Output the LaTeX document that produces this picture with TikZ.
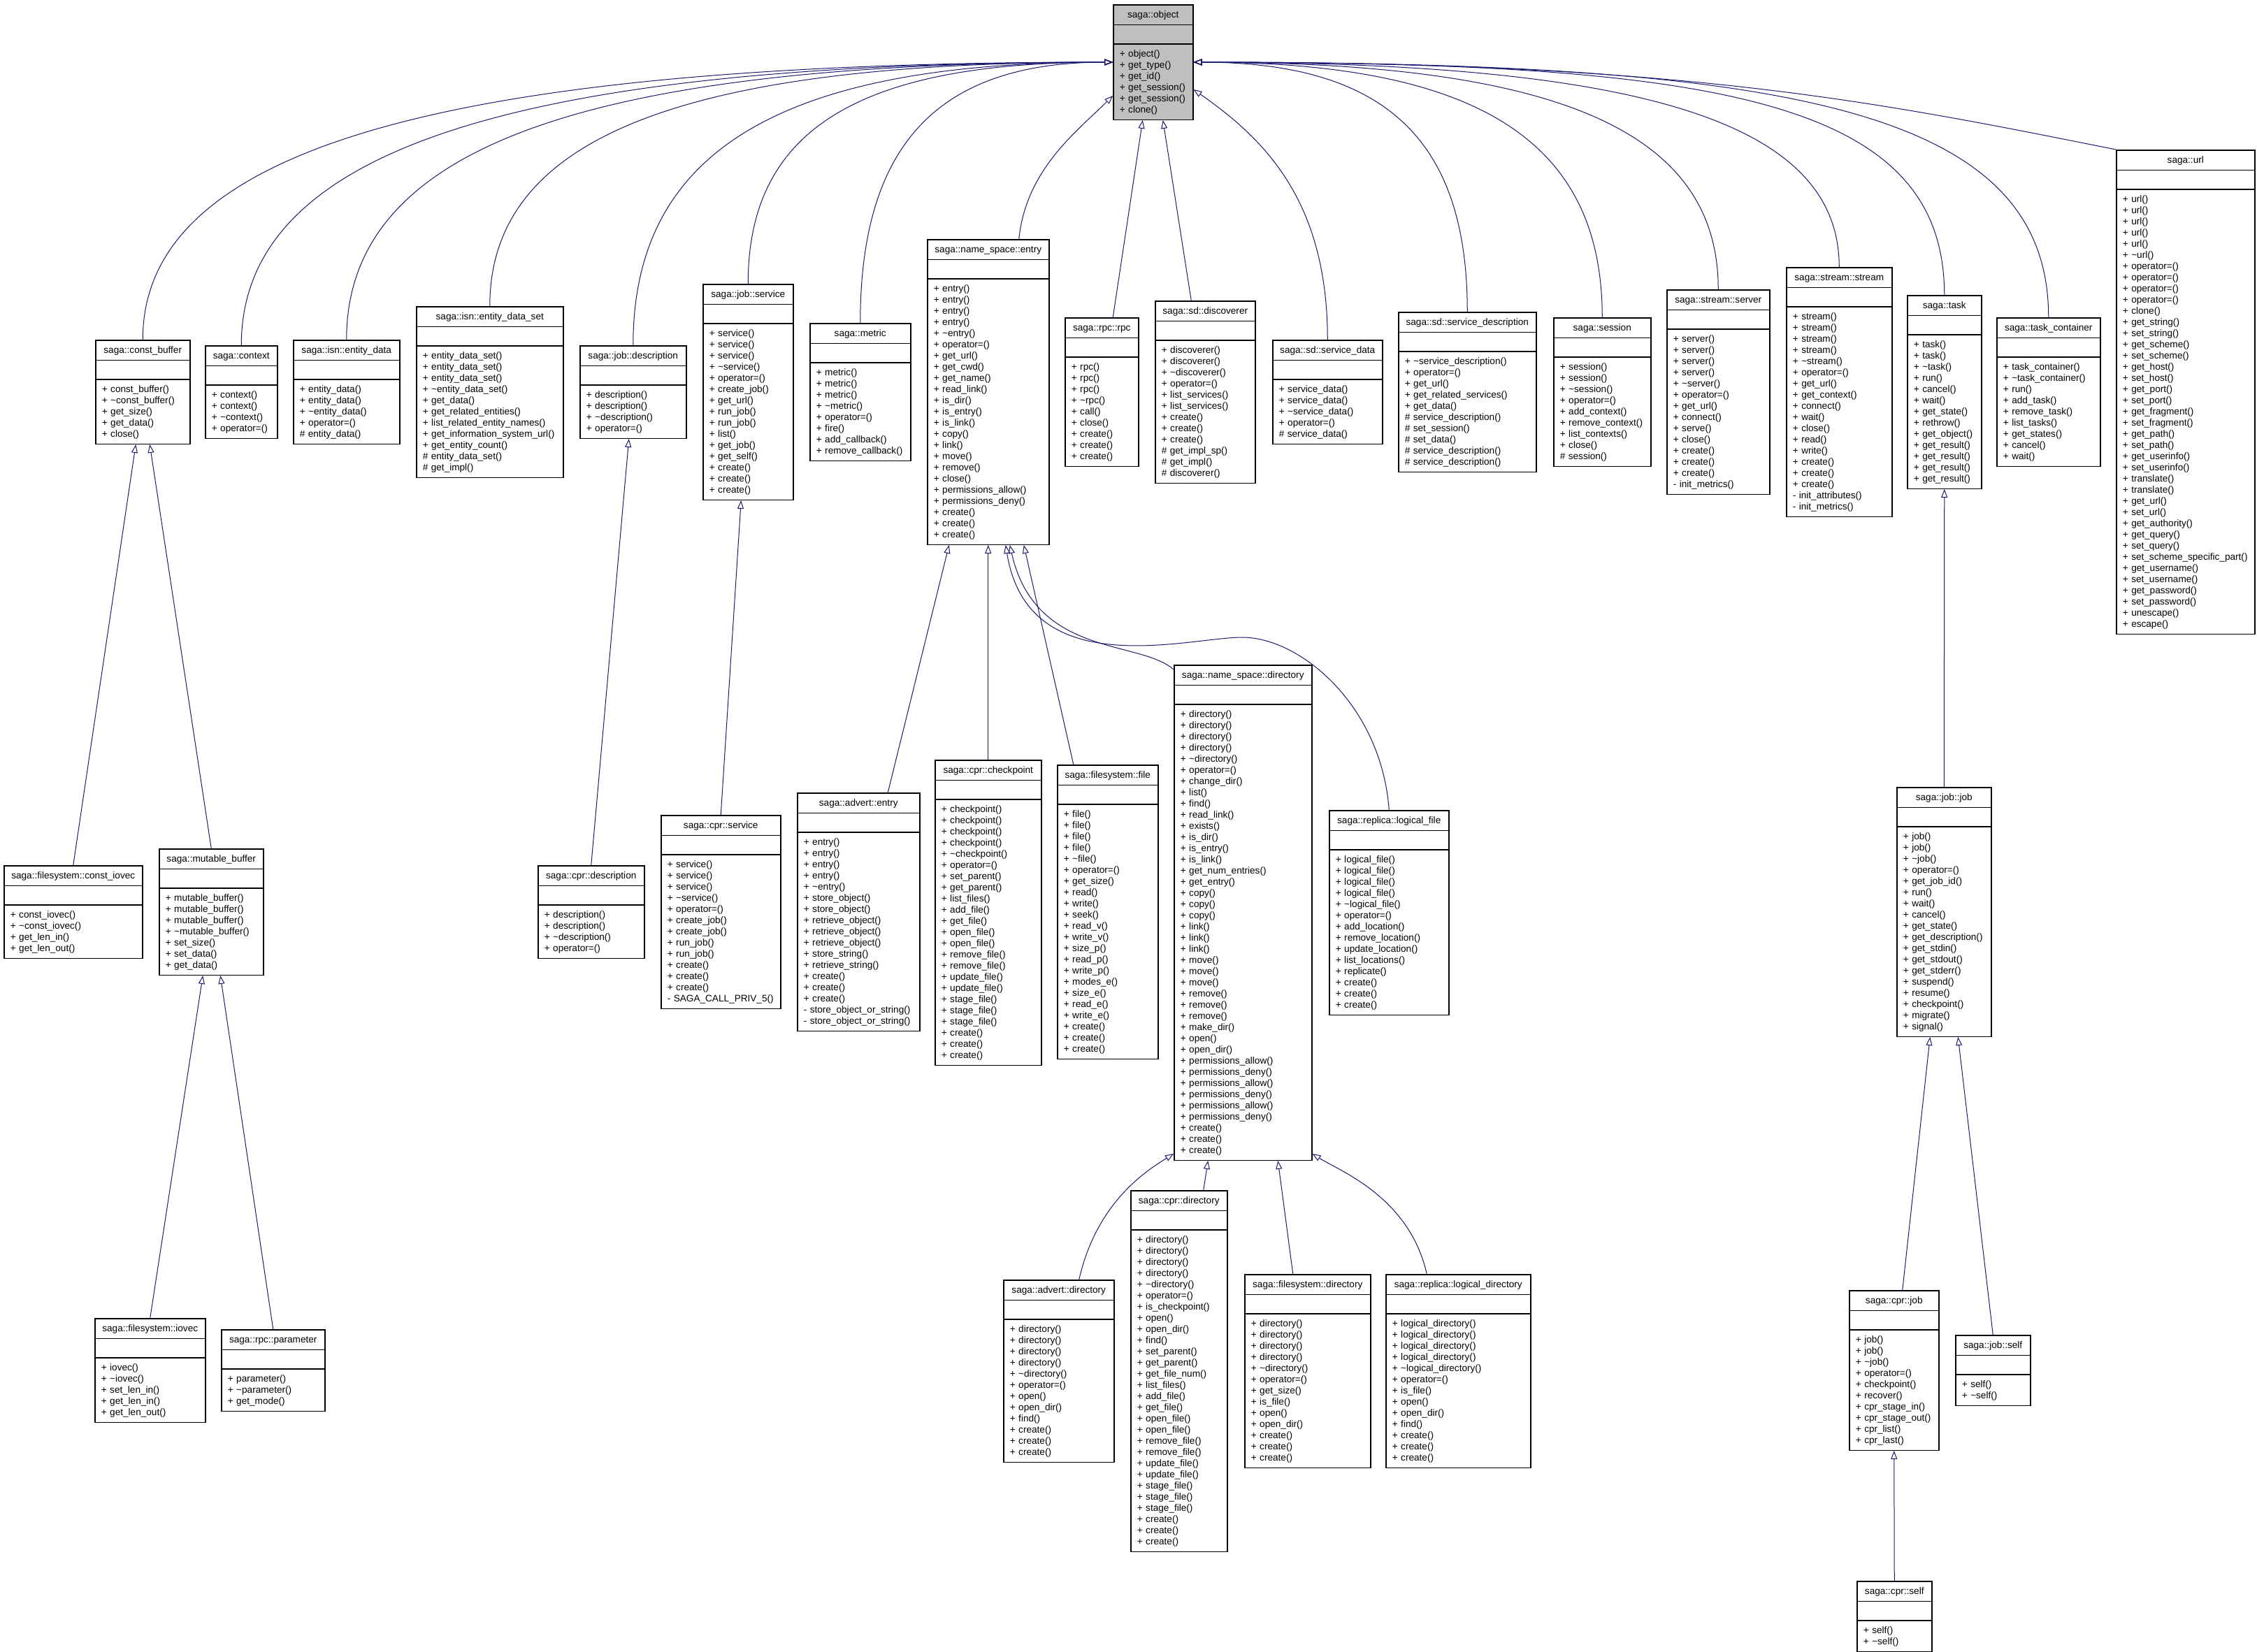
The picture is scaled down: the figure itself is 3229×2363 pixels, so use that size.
\documentclass[tikz,border=0pt]{standalone}
\usepackage{fontspec}
\setmainfont{Liberation Sans}
\usetikzlibrary{shapes.multipart}
\usetikzlibrary{arrows.meta}
\usetikzlibrary{calc}
\definecolor{edgeblue}{HTML}{191970}
\definecolor{objgray}{HTML}{BFBFBF}
\newcommand{\mstrut}{\rule[-2pt]{0pt}{8pt}}
\newcommand{\emptyrow}{\rule{0pt}{7.5pt}}
\newcommand{\dt}{\textasciitilde}
\newcommand{\hd}[1]{\makebox[\linewidth]{\mstrut #1}}
\tikzset{
  cls/.style={draw, line width=0.75pt, rectangle split, rectangle split parts=3,
    anchor=north west, inner xsep=4.5pt, inner ysep=2.75pt, align=left,
    fill=white, font=\fontsize{6.8}{8}\selectfont},
  inh/.style={draw=edgeblue, line width=0.5pt, -{Triangle[open,length=6pt,width=4.5pt]}}
}

\begin{document}
\begin{tikzpicture}[x=0.5pt,y=-0.5pt]
  \useasboundingbox (0,0) rectangle (3229,2363);
  % base class
  \node[cls, text width=48pt, fill=objgray] (obj) at (1592,6) {\hd{saga::object}\nodepart{two}\emptyrow\nodepart{three}\mstrut
    + object()\\+ get\_type()\\+ get\_id()\\+ get\_session()\\+ get\_session()\\+ clone()\mstrut};
  % first row
  \node[cls, text width=58.5pt] (cbuf) at (136,486) {\hd{saga::const\_buffer}\nodepart{two}\emptyrow\nodepart{three}\mstrut
    + const\_buffer()\\+ \dt const\_buffer()\\+ get\_size()\\+ get\_data()\\+ close()\mstrut};
  \node[cls, text width=42.5pt] (ctx) at (293,494) {\hd{saga::context}\nodepart{two}\emptyrow\nodepart{three}\mstrut
    + context()\\+ context()\\+ \dt context()\\+ operator=()\mstrut};
  \node[cls, text width=67pt] (edata) at (419,486) {\hd{saga::isn::entity\_data}\nodepart{two}\emptyrow\nodepart{three}\mstrut
    + entity\_data()\\+ entity\_data()\\+ \dt entity\_data()\\+ operator=()\\\# entity\_data()\mstrut};
  \node[cls, text width=96pt] (edset) at (595,438) {\hd{saga::isn::entity\_data\_set}\nodepart{two}\emptyrow\nodepart{three}\mstrut
    + entity\_data\_set()\\+ entity\_data\_set()\\+ entity\_data\_set()\\+ \dt entity\_data\_set()\\+ get\_data()\\+ get\_related\_entities()\\+ list\_related\_entity\_names()\\+ get\_information\_system\_url()\\+ get\_entity\_count()\\\# entity\_data\_set()\\\# get\_impl()\mstrut};
  \node[cls, text width=67pt] (jdesc) at (829,494) {\hd{saga::job::description}\nodepart{two}\emptyrow\nodepart{three}\mstrut
    + description()\\+ description()\\+ \dt description()\\+ operator=()\mstrut};
  \node[cls, text width=55.5pt] (jsrv) at (1005,406) {\hd{saga::job::service}\nodepart{two}\emptyrow\nodepart{three}\mstrut
    + service()\\+ service()\\+ service()\\+ \dt service()\\+ operator=()\\+ create\_job()\\+ get\_url()\\+ run\_job()\\+ run\_job()\\+ list()\\+ get\_job()\\+ get\_self()\\+ create()\\+ create()\\+ create()\mstrut};
  \node[cls, text width=63pt] (metric) at (1158,462) {\hd{saga::metric}\nodepart{two}\emptyrow\nodepart{three}\mstrut
    + metric()\\+ metric()\\+ metric()\\+ \dt metric()\\+ operator=()\\+ fire()\\+ add\_callback()\\+ remove\_callback()\mstrut};
  \node[cls, text width=78pt] (nsentry) at (1326,342) {\hd{saga::name\_space::entry}\nodepart{two}\emptyrow\nodepart{three}\mstrut
    + entry()\\+ entry()\\+ entry()\\+ entry()\\+ \dt entry()\\+ operator=()\\+ get\_url()\\+ get\_cwd()\\+ get\_name()\\+ read\_link()\\+ is\_dir()\\+ is\_entry()\\+ is\_link()\\+ copy()\\+ link()\\+ move()\\+ remove()\\+ close()\\+ permissions\_allow()\\+ permissions\_deny()\\+ create()\\+ create()\\+ create()\mstrut};
  \node[cls, text width=43.5pt] (rpc) at (1523,454) {\hd{saga::rpc::rpc}\nodepart{two}\emptyrow\nodepart{three}\mstrut
    + rpc()\\+ rpc()\\+ rpc()\\+ \dt rpc()\\+ call()\\+ close()\\+ create()\\+ create()\\+ create()\mstrut};
  \node[cls, text width=62.5pt] (disc) at (1652,430) {\hd{saga::sd::discoverer}\nodepart{two}\emptyrow\nodepart{three}\mstrut
    + discoverer()\\+ discoverer()\\+ \dt discoverer()\\+ operator=()\\+ list\_services()\\+ list\_services()\\+ create()\\+ create()\\+ create()\\\# get\_impl\_sp()\\\# get\_impl()\\\# discoverer()\mstrut};
  \node[cls, text width=69.5pt] (sdata) at (1820,486) {\hd{saga::sd::service\_data}\nodepart{two}\emptyrow\nodepart{three}\mstrut
    + service\_data()\\+ service\_data()\\+ \dt service\_data()\\+ operator=()\\\# service\_data()\mstrut};
  \node[cls, text width=89.5pt] (sdesc) at (2000,446) {\hd{saga::sd::service\_description}\nodepart{two}\emptyrow\nodepart{three}\mstrut
    + \dt service\_description()\\+ operator=()\\+ get\_url()\\+ get\_related\_services()\\+ get\_data()\\\# service\_description()\\\# set\_session()\\\# set\_data()\\\# service\_description()\\\# service\_description()\mstrut};
  \node[cls, text width=60.5pt] (session) at (2222,454) {\hd{saga::session}\nodepart{two}\emptyrow\nodepart{three}\mstrut
    + session()\\+ session()\\+ \dt session()\\+ operator=()\\+ add\_context()\\+ remove\_context()\\+ list\_contexts()\\+ close()\\\# session()\mstrut};
  \node[cls, text width=64.5pt] (server) at (2384,414) {\hd{saga::stream::server}\nodepart{two}\emptyrow\nodepart{three}\mstrut
    + server()\\+ server()\\+ server()\\+ server()\\+ \dt server()\\+ operator=()\\+ get\_url()\\+ connect()\\+ serve()\\+ close()\\+ create()\\+ create()\\+ create()\\- init\_metrics()\mstrut};
  \node[cls, text width=66.5pt] (stream) at (2555,382) {\hd{saga::stream::stream}\nodepart{two}\emptyrow\nodepart{three}\mstrut
    + stream()\\+ stream()\\+ stream()\\+ stream()\\+ \dt stream()\\+ operator=()\\+ get\_url()\\+ get\_context()\\+ connect()\\+ wait()\\+ close()\\+ read()\\+ write()\\+ create()\\+ create()\\+ create()\\- init\_attributes()\\- init\_metrics()\mstrut};
  \node[cls, text width=44pt] (task) at (2728,422) {\hd{saga::task}\nodepart{two}\emptyrow\nodepart{three}\mstrut
    + task()\\+ task()\\+ \dt task()\\+ run()\\+ cancel()\\+ wait()\\+ get\_state()\\+ rethrow()\\+ get\_object()\\+ get\_result()\\+ get\_result()\\+ get\_result()\\+ get\_result()\mstrut};
  \node[cls, text width=65pt] (tcont) at (2856,454) {\hd{saga::task\_container}\nodepart{two}\emptyrow\nodepart{three}\mstrut
    + task\_container()\\+ \dt task\_container()\\+ run()\\+ add\_task()\\+ remove\_task()\\+ list\_tasks()\\+ get\_states()\\+ cancel()\\+ wait()\mstrut};
  \node[cls, text width=90pt] (url) at (3027,214) {\hd{saga::url}\nodepart{two}\emptyrow\nodepart{three}\mstrut
    + url()\\+ url()\\+ url()\\+ url()\\+ url()\\+ \dt url()\\+ operator=()\\+ operator=()\\+ operator=()\\+ operator=()\\+ clone()\\+ get\_string()\\+ set\_string()\\+ get\_scheme()\\+ set\_scheme()\\+ get\_host()\\+ set\_host()\\+ get\_port()\\+ set\_port()\\+ get\_fragment()\\+ set\_fragment()\\+ get\_path()\\+ set\_path()\\+ get\_userinfo()\\+ set\_userinfo()\\+ translate()\\+ translate()\\+ get\_url()\\+ set\_url()\\+ get\_authority()\\+ get\_query()\\+ set\_query()\\+ set\_scheme\_specific\_part()\\+ get\_username()\\+ set\_username()\\+ get\_password()\\+ set\_password()\\+ unescape()\\+ escape()\mstrut};
  % second row
  \node[cls, text width=90pt] (civec) at (5,1238) {\hd{saga::filesystem::const\_iovec}\nodepart{two}\emptyrow\nodepart{three}\mstrut
    + const\_iovec()\\+ \dt const\_iovec()\\+ get\_len\_in()\\+ get\_len\_out()\mstrut};
  \node[cls, text width=65.5pt] (mbuf) at (227,1214) {\hd{saga::mutable\_buffer}\nodepart{two}\emptyrow\nodepart{three}\mstrut
    + mutable\_buffer()\\+ mutable\_buffer()\\+ mutable\_buffer()\\+ \dt mutable\_buffer()\\+ set\_size()\\+ set\_data()\\+ get\_data()\mstrut};
  \node[cls, text width=67pt] (cdesc) at (769,1238) {\hd{saga::cpr::description}\nodepart{two}\emptyrow\nodepart{three}\mstrut
    + description()\\+ description()\\+ \dt description()\\+ operator=()\mstrut};
  \node[cls, text width=76.5pt] (csrv) at (945,1166) {\hd{saga::cpr::service}\nodepart{two}\emptyrow\nodepart{three}\mstrut
    + service()\\+ service()\\+ service()\\+ \dt service()\\+ operator=()\\+ create\_job()\\+ create\_job()\\+ run\_job()\\+ run\_job()\\+ create()\\+ create()\\+ create()\\- SAGA\_CALL\_PRIV\_5()\mstrut};
  \node[cls, text width=78.5pt] (aentry) at (1140,1134) {\hd{saga::advert::entry}\nodepart{two}\emptyrow\nodepart{three}\mstrut
    + entry()\\+ entry()\\+ entry()\\+ entry()\\+ \dt entry()\\+ store\_object()\\+ store\_object()\\+ retrieve\_object()\\+ retrieve\_object()\\+ retrieve\_object()\\+ store\_string()\\+ retrieve\_string()\\+ create()\\+ create()\\+ create()\\- store\_object\_or\_string()\\- store\_object\_or\_string()\mstrut};
  \node[cls, text width=67pt] (ckpt) at (1337,1087) {\hd{saga::cpr::checkpoint}\nodepart{two}\emptyrow\nodepart{three}\mstrut
    + checkpoint()\\+ checkpoint()\\+ checkpoint()\\+ checkpoint()\\+ \dt checkpoint()\\+ operator=()\\+ set\_parent()\\+ get\_parent()\\+ list\_files()\\+ add\_file()\\+ get\_file()\\+ open\_file()\\+ open\_file()\\+ remove\_file()\\+ remove\_file()\\+ update\_file()\\+ update\_file()\\+ stage\_file()\\+ stage\_file()\\+ stage\_file()\\+ create()\\+ create()\\+ create()\mstrut};
  \node[cls, text width=63pt] (fsfile) at (1512,1094) {\hd{saga::filesystem::file}\nodepart{two}\emptyrow\nodepart{three}\mstrut
    + file()\\+ file()\\+ file()\\+ file()\\+ \dt file()\\+ operator=()\\+ get\_size()\\+ read()\\+ write()\\+ seek()\\+ read\_v()\\+ write\_v()\\+ size\_p()\\+ read\_p()\\+ write\_p()\\+ modes\_e()\\+ size\_e()\\+ read\_e()\\+ write\_e()\\+ create()\\+ create()\\+ create()\mstrut};
  \node[cls, text width=89.5pt] (nsdir) at (1679,951) {\hd{saga::name\_space::directory}\nodepart{two}\emptyrow\nodepart{three}\mstrut
    + directory()\\+ directory()\\+ directory()\\+ directory()\\+ \dt directory()\\+ operator=()\\+ change\_dir()\\+ list()\\+ find()\\+ read\_link()\\+ exists()\\+ is\_dir()\\+ is\_entry()\\+ is\_link()\\+ get\_num\_entries()\\+ get\_entry()\\+ copy()\\+ copy()\\+ copy()\\+ link()\\+ link()\\+ link()\\+ move()\\+ move()\\+ move()\\+ remove()\\+ remove()\\+ remove()\\+ make\_dir()\\+ open()\\+ open\_dir()\\+ permissions\_allow()\\+ permissions\_deny()\\+ permissions\_allow()\\+ permissions\_deny()\\+ permissions\_allow()\\+ permissions\_deny()\\+ create()\\+ create()\\+ create()\mstrut};
  \node[cls, text width=76.5pt] (lfile) at (1901,1159) {\hd{saga::replica::logical\_file}\nodepart{two}\emptyrow\nodepart{three}\mstrut
    + logical\_file()\\+ logical\_file()\\+ logical\_file()\\+ logical\_file()\\+ \dt logical\_file()\\+ operator=()\\+ add\_location()\\+ remove\_location()\\+ update\_location()\\+ list\_locations()\\+ replicate()\\+ create()\\+ create()\\+ create()\mstrut};
  \node[cls, text width=58.5pt] (jjob) at (2713,1126) {\hd{saga::job::job}\nodepart{two}\emptyrow\nodepart{three}\mstrut
    + job()\\+ job()\\+ \dt job()\\+ operator=()\\+ get\_job\_id()\\+ run()\\+ wait()\\+ cancel()\\+ get\_state()\\+ get\_description()\\+ get\_stdin()\\+ get\_stdout()\\+ get\_stderr()\\+ suspend()\\+ resume()\\+ checkpoint()\\+ migrate()\\+ signal()\mstrut};
  % third row
  \node[cls, text width=70pt] (iovec) at (135,1886) {\hd{saga::filesystem::iovec}\nodepart{two}\emptyrow\nodepart{three}\mstrut
    + iovec()\\+ \dt iovec()\\+ set\_len\_in()\\+ get\_len\_in()\\+ get\_len\_out()\mstrut};
  \node[cls, text width=65pt] (param) at (316,1902) {\hd{saga::rpc::parameter}\nodepart{two}\emptyrow\nodepart{three}\mstrut
    + parameter()\\+ \dt parameter()\\+ get\_mode()\mstrut};
  \node[cls, text width=70pt] (adir) at (1435,1831) {\hd{saga::advert::directory}\nodepart{two}\emptyrow\nodepart{three}\mstrut
    + directory()\\+ directory()\\+ directory()\\+ directory()\\+ \dt directory()\\+ operator=()\\+ open()\\+ open\_dir()\\+ find()\\+ create()\\+ create()\\+ create()\mstrut};
  \node[cls, text width=60pt] (cdir) at (1617,1703) {\hd{saga::cpr::directory}\nodepart{two}\emptyrow\nodepart{three}\mstrut
    + directory()\\+ directory()\\+ directory()\\+ directory()\\+ \dt directory()\\+ operator=()\\+ is\_checkpoint()\\+ open()\\+ open\_dir()\\+ find()\\+ set\_parent()\\+ get\_parent()\\+ get\_file\_num()\\+ list\_files()\\+ add\_file()\\+ get\_file()\\+ open\_file()\\+ open\_file()\\+ remove\_file()\\+ remove\_file()\\+ update\_file()\\+ update\_file()\\+ stage\_file()\\+ stage\_file()\\+ stage\_file()\\+ create()\\+ create()\\+ create()\mstrut};
  \node[cls, text width=81pt] (fsdir) at (1780,1823) {\hd{saga::filesystem::directory}\nodepart{two}\emptyrow\nodepart{three}\mstrut
    + directory()\\+ directory()\\+ directory()\\+ directory()\\+ \dt directory()\\+ operator=()\\+ get\_size()\\+ is\_file()\\+ open()\\+ open\_dir()\\+ create()\\+ create()\\+ create()\mstrut};
  \node[cls, text width=94.5pt] (ldir) at (1982,1823) {\hd{saga::replica::logical\_directory}\nodepart{two}\emptyrow\nodepart{three}\mstrut
    + logical\_directory()\\+ logical\_directory()\\+ logical\_directory()\\+ logical\_directory()\\+ \dt logical\_directory()\\+ operator=()\\+ is\_file()\\+ open()\\+ open\_dir()\\+ find()\\+ create()\\+ create()\\+ create()\mstrut};
  \node[cls, text width=55pt] (cjob) at (2645,1846) {\hd{saga::cpr::job}\nodepart{two}\emptyrow\nodepart{three}\mstrut
    + job()\\+ job()\\+ \dt job()\\+ operator=()\\+ checkpoint()\\+ recover()\\+ cpr\_stage\_in()\\+ cpr\_stage\_out()\\+ cpr\_list()\\+ cpr\_last()\mstrut};
  \node[cls, text width=44.5pt] (jself) at (2797,1910) {\hd{saga::job::self}\nodepart{two}\emptyrow\nodepart{three}\mstrut
    + self()\\+ \dt self()\mstrut};
  \node[cls, text width=44.5pt] (cself) at (2656,2262) {\hd{saga::cpr::self}\nodepart{two}\emptyrow\nodepart{three}\mstrut
    + self()\\+ \dt self()\mstrut};

  % inheritance to saga::object
  \draw[inh] (cbuf.north) .. controls +(0,-270) and +(-970,0) .. (obj.west);
  \draw[inh] (ctx.north) .. controls +(0,-275) and +(-870,0) .. (obj.west);
  \draw[inh] (edata.north) .. controls +(0,-270) and +(-770,0) .. (obj.west);
  \draw[inh] (edset.north) .. controls +(0,-240) and +(-620,0) .. (obj.west);
  \draw[inh] (jdesc.north) .. controls +(0,-275) and +(-480,0) .. (obj.west);
  \draw[inh] (jsrv.north) .. controls +(0,-220) and +(-365,0) .. (obj.west);
  \draw[inh] (metric.north) .. controls +(0,-255) and +(-250,0) .. (obj.west);
  \draw[inh] ($(nsentry.north)+(44,0)$) .. controls +(10,-100) and +(-50,50) .. ($(obj.south west)+(0,-35)$);
  \draw[inh] ($(rpc.north)+(16,0)$) -- ($(obj.south)+(-15,0)$);
  \draw[inh] ($(disc.north)+(-20,0)$) -- ($(obj.south)+(14,0)$);
  \draw[inh] (sdata.north) .. controls +(0,-200) and +(100,70) .. ($(obj.south east)+(0,-44)$);
  \draw[inh] (sdesc.north) .. controls +(0,-245) and +(275,0) .. (obj.east);
  \draw[inh] (session.north) .. controls +(0,-250) and +(410,0) .. (obj.east);
  \draw[inh] (server.north) .. controls +(0,-225) and +(525,0) .. (obj.east);
  \draw[inh] (stream.north) .. controls +(0,-205) and +(650,0) .. (obj.east);
  \draw[inh] (task.north) .. controls +(0,-280) and +(750,0) .. (obj.east);
  \draw[inh] (tcont.north) .. controls +(0,-300) and +(850,0) .. (obj.east);
  \draw[inh] (url.north west) .. controls +(-350,-70) and +(700,0) .. (obj.east);
  % lower levels
  \draw[inh] (civec.north) -- ($(cbuf.south)+(-10,0)$);
  \draw[inh] (mbuf.north) -- ($(cbuf.south)+(10,0)$);
  \draw[inh] (iovec.north) -- ($(mbuf.south)+(-12,0)$);
  \draw[inh] (param.north) -- ($(mbuf.south)+(13,0)$);
  \draw[inh] (cdesc.north) -- ($(jdesc.south)+(-6,0)$);
  \draw[inh] (csrv.north) -- ($(jsrv.south)+(-10,0)$);
  \draw[inh] ($(aentry.north)+(42,0)$) -- ($(nsentry.south)+(-56,0)$);
  \draw[inh] (ckpt.north) -- (nsentry.south);
  \draw[inh] ($(fsfile.north)+(-49,0)$) -- ($(nsentry.south)+(51,0)$);
  \draw[inh] ($(nsdir.north west)+(0,7)$) .. controls +(-49,-43) and +(36,161) .. ($(nsentry.south)+(31,0)$);
  \draw[inh] (lfile.north) .. controls +(-11,-150) and +(83,0) .. (1777,912) .. controls +(-77,0) and +(32,200) .. ($(nsentry.south)+(25,0)$);
  \draw[inh] ($(adir.north)+(29,0)$) .. controls +(25,-110) and +(-40,25) .. ($(nsdir.south west)+(0,-10)$);
  \draw[inh] ($(cdir.north)+(35,0)$) -- ($(nsdir.south)+(-50,0)$);
  \draw[inh] ($(fsdir.north)+(-21,0)$) -- ($(nsdir.south)+(50,0)$);
  \draw[inh] ($(ldir.north)+(-45,0)$) .. controls +(-25,-110) and +(40,25) .. ($(nsdir.south east)+(0,-10)$);
  \draw[inh] (jjob.north) -- (task.south);
  \draw[inh] ($(cjob.north)+(12,0)$) -- ($(jjob.south)+(-20,0)$);
  \draw[inh] (jself.north) -- ($(jjob.south)+(20,0)$);
  \draw[inh] (cself.north) -- (cjob.south);
\end{tikzpicture}
\end{document}
